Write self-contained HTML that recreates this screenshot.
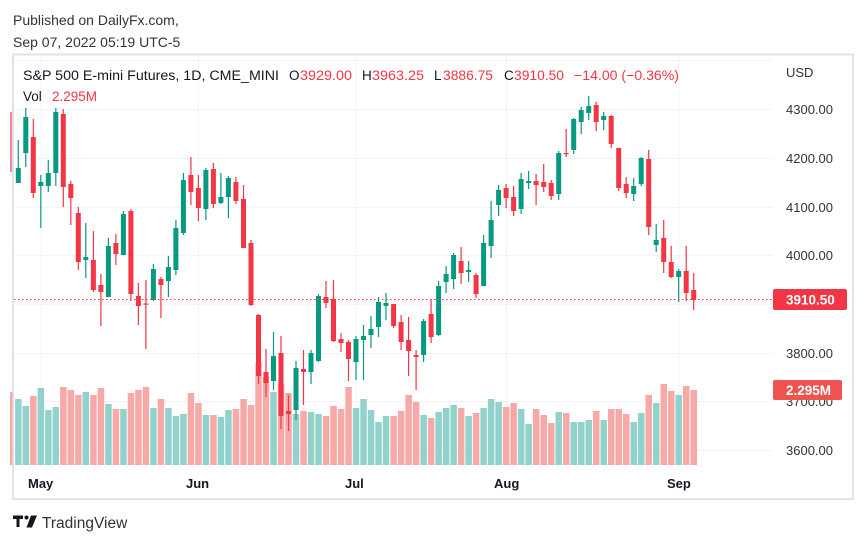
<!DOCTYPE html>
<html><head><meta charset="utf-8"><style>
body{margin:0;background:#fff;width:866px;height:544px;overflow:hidden}
svg{display:block;font-family:"Liberation Sans","DejaVu Sans",sans-serif}
.g path{stroke:#089981;stroke-width:1.2}.g rect{fill:#089981}
.r path{stroke:#f23645;stroke-width:1.2}.r rect{fill:#f23645}
.vg{fill:#92d2cc}.vr{fill:#f7a9a7}
.ax{font-size:13px;fill:#333}
</style></head><body>
<svg width="866" height="544" viewBox="0 0 866 544">
<text x="13" y="25" font-size="14" fill="#333">Published on DailyFx.com,</text>
<text x="13" y="47" font-size="14" fill="#333">Sep 07, 2022 05:19 UTC-5</text>
<rect x="13" y="54.5" width="840" height="444.5" fill="none" stroke="#e0e3eb" stroke-width="2"/>
<g stroke="#f0f3fa" stroke-width="1">
<path d="M14 60.5H773M14 109.5H773M14 158.5H773M14 207.5H773M14 255.5H773M14 304.5H773M14 353.5H773M14 401.5H773M14 450.5H773"/>
<path d="M41.3 56V467M198.5 56V467M356 56V467M506.5 56V467M678.7 56V467"/>
</g>
<!-- volume -->
<g>
<rect class="vr" x="10" y="392" width="2.5" height="73"/>
<rect class="vg" x="15.1" y="399" width="6.5" height="66"/><rect class="vg" x="22.6" y="406" width="6.5" height="59"/><rect class="vr" x="30.1" y="396" width="6.5" height="69"/><rect class="vg" x="37.6" y="388" width="6.5" height="77"/><rect class="vg" x="45.1" y="410" width="6.5" height="55"/><rect class="vg" x="52.6" y="407" width="6.5" height="58"/><rect class="vr" x="60.1" y="387" width="6.5" height="78"/><rect class="vr" x="67.6" y="390" width="6.5" height="75"/><rect class="vr" x="75.1" y="395" width="6.5" height="70"/><rect class="vg" x="82.6" y="392" width="6.5" height="73"/>
<rect class="vr" x="90.2" y="395" width="6.5" height="70"/><rect class="vr" x="97.7" y="388" width="6.5" height="77"/><rect class="vg" x="105.2" y="404" width="6.5" height="61"/><rect class="vr" x="112.7" y="409" width="6.5" height="56"/><rect class="vg" x="120.2" y="409" width="6.5" height="56"/><rect class="vr" x="127.7" y="393" width="6.5" height="72"/><rect class="vr" x="135.2" y="390" width="6.5" height="75"/><rect class="vr" x="142.7" y="387" width="6.5" height="78"/><rect class="vg" x="150.2" y="408" width="6.5" height="57"/><rect class="vr" x="157.7" y="399" width="6.5" height="66"/>
<rect class="vg" x="165.2" y="408" width="6.5" height="57"/><rect class="vg" x="172.7" y="416" width="6.5" height="49"/><rect class="vg" x="180.2" y="414" width="6.5" height="51"/><rect class="vr" x="187.7" y="393" width="6.5" height="72"/><rect class="vr" x="195.2" y="403" width="6.5" height="62"/><rect class="vg" x="202.7" y="415" width="6.5" height="50"/><rect class="vr" x="210.2" y="415" width="6.5" height="50"/><rect class="vg" x="217.7" y="417" width="6.5" height="48"/><rect class="vg" x="225.2" y="410" width="6.5" height="55"/><rect class="vr" x="232.7" y="409" width="6.5" height="56"/>
<rect class="vr" x="240.3" y="399" width="6.5" height="66"/><rect class="vr" x="247.8" y="405" width="6.5" height="60"/><rect class="vr" x="255.3" y="363" width="6.5" height="102"/><rect class="vr" x="262.8" y="377" width="6.5" height="88"/><rect class="vg" x="270.3" y="392" width="6.5" height="73"/><rect class="vr" x="277.8" y="384" width="6.5" height="81"/><rect class="vr" x="285.3" y="393" width="6.5" height="72"/><rect class="vg" x="292.8" y="414" width="6.5" height="51"/><rect class="vr" x="300.3" y="411" width="6.5" height="54"/><rect class="vg" x="307.8" y="412" width="6.5" height="53"/>
<rect class="vg" x="315.3" y="414" width="6.5" height="51"/><rect class="vr" x="322.8" y="416" width="6.5" height="49"/><rect class="vr" x="330.3" y="406" width="6.5" height="59"/><rect class="vr" x="337.8" y="409" width="6.5" height="56"/><rect class="vr" x="345.3" y="387" width="6.5" height="78"/><rect class="vg" x="352.8" y="408" width="6.5" height="57"/><rect class="vg" x="360.3" y="399" width="6.5" height="66"/><rect class="vg" x="367.8" y="410" width="6.5" height="55"/><rect class="vg" x="375.3" y="422" width="6.5" height="43"/><rect class="vg" x="382.8" y="416" width="6.5" height="49"/>
<rect class="vr" x="390.4" y="416" width="6.5" height="49"/><rect class="vr" x="397.9" y="411" width="6.5" height="54"/><rect class="vr" x="405.4" y="395" width="6.5" height="70"/><rect class="vr" x="412.9" y="402" width="6.5" height="63"/><rect class="vg" x="420.4" y="415" width="6.5" height="50"/><rect class="vr" x="427.9" y="418" width="6.5" height="47"/><rect class="vg" x="435.4" y="412" width="6.5" height="53"/><rect class="vg" x="442.9" y="408" width="6.5" height="57"/><rect class="vg" x="450.4" y="405" width="6.5" height="60"/><rect class="vr" x="457.9" y="408" width="6.5" height="57"/>
<rect class="vg" x="465.4" y="416" width="6.5" height="49"/><rect class="vr" x="472.9" y="413" width="6.5" height="52"/><rect class="vg" x="480.4" y="408" width="6.5" height="57"/><rect class="vg" x="487.9" y="399" width="6.5" height="66"/><rect class="vg" x="495.4" y="402" width="6.5" height="63"/><rect class="vr" x="502.9" y="407" width="6.5" height="58"/><rect class="vr" x="510.4" y="403" width="6.5" height="62"/><rect class="vg" x="517.9" y="409" width="6.5" height="56"/><rect class="vg" x="525.4" y="424" width="6.5" height="41"/><rect class="vr" x="532.9" y="409" width="6.5" height="56"/>
<rect class="vr" x="540.5" y="415" width="6.5" height="50"/><rect class="vr" x="548" y="423" width="6.5" height="42"/><rect class="vg" x="555.5" y="412" width="6.5" height="53"/><rect class="vr" x="563" y="413" width="6.5" height="52"/><rect class="vg" x="570.5" y="422" width="6.5" height="43"/><rect class="vg" x="578" y="422" width="6.5" height="43"/><rect class="vg" x="585.5" y="420" width="6.5" height="45"/><rect class="vr" x="593" y="411" width="6.5" height="54"/><rect class="vg" x="600.5" y="420" width="6.5" height="45"/><rect class="vr" x="608" y="409" width="6.5" height="56"/>
<rect class="vr" x="615.5" y="409" width="6.5" height="56"/><rect class="vr" x="623" y="414" width="6.5" height="51"/><rect class="vg" x="630.5" y="422" width="6.5" height="43"/><rect class="vg" x="638" y="413" width="6.5" height="52"/><rect class="vr" x="645.5" y="395" width="6.5" height="70"/><rect class="vg" x="653" y="403" width="6.5" height="62"/><rect class="vr" x="660.5" y="384" width="6.5" height="81"/><rect class="vr" x="668" y="391" width="6.5" height="74"/><rect class="vg" x="675.5" y="395" width="6.5" height="70"/><rect class="vr" x="683" y="386" width="6.5" height="79"/>
<rect class="vr" x="690.5" y="390" width="6.5" height="75"/>
</g>
<!-- candles -->
<g class="r" transform="translate(11)"><path d="M0 112V172"/></g>
<g class="g" transform="translate(18.3)"><path d="M0 140V183"/><rect x="-2.5" y="168" width="5" height="15"/></g>
<g class="g" transform="translate(25.8)"><path d="M0 108V167"/><rect x="-2.5" y="117" width="5" height="36"/></g>
<g class="r" transform="translate(33.3)"><path d="M0 119V198"/><rect x="-2.5" y="137" width="5" height="56"/></g>
<g class="g" transform="translate(40.8)"><path d="M0 175V228"/><rect x="-2.5" y="182" width="5" height="4"/></g>
<g class="g" transform="translate(48.3)"><path d="M0 160V192"/><rect x="-2.5" y="173" width="5" height="13"/></g>
<g class="g" transform="translate(55.8)"><path d="M0 108V186"/><rect x="-2.5" y="112" width="5" height="61"/></g>
<g class="r" transform="translate(63.3)"><path d="M0 109V207"/><rect x="-2.5" y="114" width="5" height="73"/></g>
<g class="r" transform="translate(70.8)"><path d="M0 181V225"/><rect x="-2.5" y="184" width="5" height="14"/></g>
<g class="r" transform="translate(78.3)"><path d="M0 207V270"/><rect x="-2.5" y="213" width="5" height="49"/></g>
<g class="g" transform="translate(85.8)"><path d="M0 223V278"/><rect x="-2.5" y="257" width="5" height="3"/></g>
<g class="r" transform="translate(93.4)"><path d="M0 231V292"/><rect x="-2.5" y="260" width="5" height="30"/></g>
<g class="r" transform="translate(100.9)"><path d="M0 274V326"/><rect x="-2.5" y="285" width="5" height="7"/></g>
<g class="g" transform="translate(108.4)"><path d="M0 238V297"/><rect x="-2.5" y="246" width="5" height="51"/></g>
<g class="r" transform="translate(115.9)"><path d="M0 234V265"/><rect x="-2.5" y="243" width="5" height="11"/></g>
<g class="g" transform="translate(123.4)"><path d="M0 211V255"/><rect x="-2.5" y="214" width="5" height="41"/></g>
<g class="r" transform="translate(130.9)"><path d="M0 209V301"/><rect x="-2.5" y="211" width="5" height="83"/></g>
<g class="r" transform="translate(138.4)"><path d="M0 283V325"/><rect x="-2.5" y="296" width="5" height="10"/></g>
<g class="r" transform="translate(145.9)"><path d="M0 280V349"/><rect x="-2.5" y="303.5" width="5" height="1.2"/></g>
<g class="g" transform="translate(153.4)"><path d="M0 264V301"/><rect x="-2.5" y="269" width="5" height="31"/></g>
<g class="r" transform="translate(160.9)"><path d="M0 277V318"/><rect x="-2.5" y="279" width="5" height="6"/></g>
<g class="g" transform="translate(168.4)"><path d="M0 256V297"/><rect x="-2.5" y="267" width="5" height="14"/></g>
<g class="g" transform="translate(175.9)"><path d="M0 220V275"/><rect x="-2.5" y="228" width="5" height="42"/></g>
<g class="g" transform="translate(183.4)"><path d="M0 173V235"/><rect x="-2.5" y="180" width="5" height="53"/></g>
<g class="r" transform="translate(190.9)"><path d="M0 157V205"/><rect x="-2.5" y="175" width="5" height="17"/></g>
<g class="r" transform="translate(198.4)"><path d="M0 175V221"/><rect x="-2.5" y="188" width="5" height="20"/></g>
<g class="g" transform="translate(205.9)"><path d="M0 168V220"/><rect x="-2.5" y="170" width="5" height="39"/></g>
<g class="r" transform="translate(213.4)"><path d="M0 163V208"/><rect x="-2.5" y="169" width="5" height="35"/></g>
<g class="g" transform="translate(220.9)"><path d="M0 173V204"/><rect x="-2.5" y="197" width="5" height="6"/></g>
<g class="g" transform="translate(228.4)"><path d="M0 176V218"/><rect x="-2.5" y="178" width="5" height="19"/></g>
<g class="r" transform="translate(235.9)"><path d="M0 177V204"/><rect x="-2.5" y="182" width="5" height="19"/></g>
<g class="r" transform="translate(243.5)"><path d="M0 185V248"/><rect x="-2.5" y="199" width="5" height="49"/></g>
<g class="r" transform="translate(251)"><path d="M0 240V306"/><rect x="-2.5" y="243" width="5" height="62"/></g>
<g class="r" transform="translate(258.5)"><path d="M0 314V384"/><rect x="-2.5" y="315" width="5" height="61"/></g>
<g class="r" transform="translate(266)"><path d="M0 349V397"/><rect x="-2.5" y="372" width="5" height="11"/></g>
<g class="g" transform="translate(273.5)"><path d="M0 332V390"/><rect x="-2.5" y="356" width="5" height="25"/></g>
<g class="r" transform="translate(281)"><path d="M0 336V429"/><rect x="-2.5" y="353" width="5" height="63"/></g>
<g class="r" transform="translate(288.5)"><path d="M0 395V431"/><rect x="-2.5" y="411" width="5" height="3"/></g>
<g class="g" transform="translate(296)"><path d="M0 361V420"/><rect x="-2.5" y="368" width="5" height="42"/></g>
<g class="r" transform="translate(303.5)"><path d="M0 350V405"/><rect x="-2.5" y="369" width="5" height="3"/></g>
<g class="g" transform="translate(311)"><path d="M0 350V384"/><rect x="-2.5" y="353" width="5" height="19"/></g>
<g class="g" transform="translate(318.5)"><path d="M0 294V362"/><rect x="-2.5" y="296" width="5" height="65"/></g>
<g class="r" transform="translate(326)"><path d="M0 281V308"/><rect x="-2.5" y="297" width="5" height="6"/></g>
<g class="r" transform="translate(333.5)"><path d="M0 280V342"/><rect x="-2.5" y="299" width="5" height="42"/></g>
<g class="r" transform="translate(341)"><path d="M0 333V352"/><rect x="-2.5" y="339" width="5" height="4"/></g>
<g class="r" transform="translate(348.5)"><path d="M0 340V381"/><rect x="-2.5" y="342" width="5" height="17"/></g>
<g class="g" transform="translate(356)"><path d="M0 336V380"/><rect x="-2.5" y="339" width="5" height="23"/></g>
<g class="g" transform="translate(363.5)"><path d="M0 325V380"/><rect x="-2.5" y="336" width="5" height="4"/></g>
<g class="g" transform="translate(371)"><path d="M0 316V348"/><rect x="-2.5" y="329" width="5" height="6"/></g>
<g class="g" transform="translate(378.5)"><path d="M0 297V337"/><rect x="-2.5" y="302" width="5" height="25"/></g>
<g class="g" transform="translate(386)"><path d="M0 293V320"/><rect x="-2.5" y="303" width="5" height="3"/></g>
<g class="r" transform="translate(393.6)"><path d="M0 304V328"/><rect x="-2.5" y="304" width="5" height="22"/></g>
<g class="r" transform="translate(401.1)"><path d="M0 315V350"/><rect x="-2.5" y="322" width="5" height="20"/></g>
<g class="r" transform="translate(408.6)"><path d="M0 317V376"/><rect x="-2.5" y="340" width="5" height="11"/></g>
<g class="r" transform="translate(416.1)"><path d="M0 350V390"/><rect x="-2.5" y="355" width="5" height="2"/></g>
<g class="g" transform="translate(423.6)"><path d="M0 319V362"/><rect x="-2.5" y="321" width="5" height="34"/></g>
<g class="r" transform="translate(431.1)"><path d="M0 299V343"/><rect x="-2.5" y="314" width="5" height="23"/></g>
<g class="g" transform="translate(438.6)"><path d="M0 281V336"/><rect x="-2.5" y="286" width="5" height="49"/></g>
<g class="g" transform="translate(446.1)"><path d="M0 266V293"/><rect x="-2.5" y="274" width="5" height="8"/></g>
<g class="g" transform="translate(453.6)"><path d="M0 253V289"/><rect x="-2.5" y="255" width="5" height="24"/></g>
<g class="r" transform="translate(461.1)"><path d="M0 247V284"/><rect x="-2.5" y="261" width="5" height="12"/></g>
<g class="g" transform="translate(468.6)"><path d="M0 261V282"/><rect x="-2.5" y="270" width="5" height="2"/></g>
<g class="r" transform="translate(476.1)"><path d="M0 273V298"/><rect x="-2.5" y="275" width="5" height="19"/></g>
<g class="g" transform="translate(483.6)"><path d="M0 235V286"/><rect x="-2.5" y="243" width="5" height="43"/></g>
<g class="g" transform="translate(491.1)"><path d="M0 201V258"/><rect x="-2.5" y="220" width="5" height="26"/></g>
<g class="g" transform="translate(498.6)"><path d="M0 185V216"/><rect x="-2.5" y="190" width="5" height="15"/></g>
<g class="r" transform="translate(506.1)"><path d="M0 184V208"/><rect x="-2.5" y="188" width="5" height="10"/></g>
<g class="r" transform="translate(513.6)"><path d="M0 186V216"/><rect x="-2.5" y="197" width="5" height="14"/></g>
<g class="g" transform="translate(521.1)"><path d="M0 173V214"/><rect x="-2.5" y="179" width="5" height="30"/></g>
<g class="g" transform="translate(528.6)"><path d="M0 171V189"/><rect x="-2.5" y="181" width="5" height="2"/></g>
<g class="r" transform="translate(536.1)"><path d="M0 174V205"/><rect x="-2.5" y="181" width="5" height="4"/></g>
<g class="r" transform="translate(543.7)"><path d="M0 164V192"/><rect x="-2.5" y="182" width="5" height="5"/></g>
<g class="r" transform="translate(551.2)"><path d="M0 180V200"/><rect x="-2.5" y="183" width="5" height="13"/></g>
<g class="g" transform="translate(558.7)"><path d="M0 151V200"/><rect x="-2.5" y="153" width="5" height="41"/></g>
<g class="r" transform="translate(566.2)"><path d="M0 129V157"/><rect x="-2.5" y="153" width="5" height="1.2"/></g>
<g class="g" transform="translate(573.7)"><path d="M0 118V154"/><rect x="-2.5" y="119" width="5" height="31"/></g>
<g class="g" transform="translate(581.2)"><path d="M0 107V134"/><rect x="-2.5" y="110" width="5" height="12"/></g>
<g class="g" transform="translate(588.7)"><path d="M0 96V120"/><rect x="-2.5" y="106" width="5" height="7"/></g>
<g class="r" transform="translate(596.2)"><path d="M0 102V131"/><rect x="-2.5" y="105" width="5" height="17"/></g>
<g class="g" transform="translate(603.7)"><path d="M0 112V130"/><rect x="-2.5" y="116" width="5" height="4"/></g>
<g class="r" transform="translate(611.2)"><path d="M0 115V148"/><rect x="-2.5" y="116" width="5" height="28"/></g>
<g class="r" transform="translate(618.7)"><path d="M0 148V191"/><rect x="-2.5" y="148" width="5" height="40"/></g>
<g class="r" transform="translate(626.2)"><path d="M0 177V198"/><rect x="-2.5" y="184" width="5" height="9"/></g>
<g class="g" transform="translate(633.7)"><path d="M0 178V201"/><rect x="-2.5" y="186" width="5" height="8"/></g>
<g class="g" transform="translate(641.2)"><path d="M0 157V186"/><rect x="-2.5" y="158" width="5" height="26"/></g>
<g class="r" transform="translate(648.7)"><path d="M0 150V235"/><rect x="-2.5" y="159" width="5" height="68"/></g>
<g class="g" transform="translate(656.2)"><path d="M0 224V252"/><rect x="-2.5" y="240" width="5" height="5"/></g>
<g class="r" transform="translate(663.7)"><path d="M0 220V273"/><rect x="-2.5" y="238" width="5" height="24"/></g>
<g class="r" transform="translate(671.2)"><path d="M0 246V278"/><rect x="-2.5" y="262" width="5" height="15"/></g>
<g class="g" transform="translate(678.7)"><path d="M0 269V302"/><rect x="-2.5" y="271" width="5" height="6"/></g>
<g class="r" transform="translate(686.2)"><path d="M0 246V301"/><rect x="-2.5" y="271" width="5" height="22"/></g>
<g class="r" transform="translate(693.7)"><path d="M0 273V310"/><rect x="-2.5" y="290" width="5" height="10"/></g>
<path d="M14 299.5H773" stroke="#f23645" stroke-width="1" stroke-dasharray="1.5 2.5"/>
<!-- legend -->
<g font-size="13.5">
<text x="23" y="80" fill="#131722" textLength="256" lengthAdjust="spacingAndGlyphs">S&amp;P 500 E-mini Futures, 1D, CME_MINI</text>
<text x="289" y="80" fill="#131722">O</text><text x="300" y="80" fill="#f23645" textLength="52" lengthAdjust="spacingAndGlyphs">3929.00</text>
<text x="362" y="80" fill="#131722">H</text><text x="372" y="80" fill="#f23645" textLength="52" lengthAdjust="spacingAndGlyphs">3963.25</text>
<text x="434" y="80" fill="#131722">L</text><text x="443" y="80" fill="#f23645" textLength="50" lengthAdjust="spacingAndGlyphs">3886.75</text>
<text x="504" y="80" fill="#131722">C</text><text x="514" y="80" fill="#f23645" textLength="50" lengthAdjust="spacingAndGlyphs">3910.50</text>
<text x="574" y="80" fill="#f23645" textLength="105" lengthAdjust="spacingAndGlyphs">−14.00 (−0.36%)</text>
<text x="23" y="101" fill="#131722">Vol</text><text x="52" y="101" fill="#f23645">2.295M</text>
</g>
<!-- price axis -->
<g class="ax">
<text x="786" y="77">USD</text>
<text x="786" y="114">4300.00</text>
<text x="786" y="163">4200.00</text>
<text x="786" y="212">4100.00</text>
<text x="786" y="260">4000.00</text>
<text x="786" y="358">3800.00</text>
<text x="786" y="406">3700.00</text>
<text x="786" y="455">3600.00</text>
</g>
<rect x="773" y="289" width="74" height="21" rx="2" fill="#f23645"/>
<text x="786" y="304.5" font-size="13.5" fill="#fff" font-weight="bold">3910.50</text>
<rect x="773" y="380" width="69" height="20" rx="2" fill="#ef5350"/>
<text x="786" y="395" font-size="13.5" fill="#fff" font-weight="bold">2.295M</text>
<!-- time axis -->
<g font-size="13" fill="#131722" font-weight="bold">
<text x="28" y="488">May</text>
<text x="186" y="488">Jun</text>
<text x="345" y="488">Jul</text>
<text x="494" y="488">Aug</text>
<text x="667" y="488">Sep</text>
</g>
<!-- logo -->
<g fill="#131722">
<path d="M13 515.5h10v3.5h-3.5v8h-3v-8h-3.5z"/>
<circle cx="26.5" cy="517.5" r="2"/>
<path d="M31 515.5h6l-5 12h-5.5z"/>
</g>
<text x="42" y="528" font-size="15.5" fill="#333">TradingView</text>
</svg>
</body></html>
